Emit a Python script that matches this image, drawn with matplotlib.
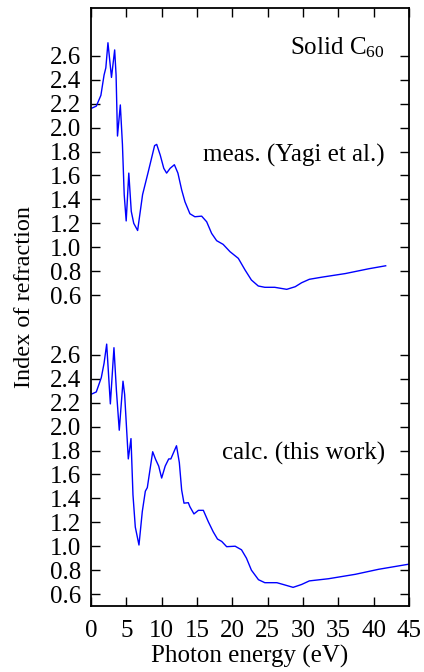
import matplotlib
matplotlib.use("Agg")
import matplotlib.pyplot as plt
import numpy as np

plt.rcParams['font.family'] = ['Liberation Serif', 'DejaVu Serif']
plt.rcParams['mathtext.fontset'] = 'custom'
plt.rcParams['mathtext.rm'] = 'Liberation Serif'
plt.rcParams['mathtext.it'] = 'Liberation Serif:italic'

# measured (Yagi et al.)
meas_e = [0.0, 0.75, 1.4, 1.85, 2.1, 2.4, 2.9, 3.35, 3.55, 3.75, 4.15, 4.45, 4.7,
          4.98, 5.35, 5.7, 6.05, 6.6, 7.3, 8.1, 9.0, 9.3, 9.8, 10.3, 10.7, 11.2,
          11.8, 12.3, 12.83, 13.3, 14.0, 14.7, 15.66, 16.37, 17.07, 17.78, 18.7,
          19.67, 20.85, 21.8, 22.7, 23.67, 24.6, 26.0, 27.7, 28.9, 29.8, 30.9,
          32.7, 36.0, 39.3, 41.7]
meas_n = [2.16, 2.18, 2.27, 2.44, 2.50, 2.71, 2.42, 2.65, 2.44, 1.93, 2.19, 1.86, 1.44,
          1.22, 1.62, 1.30, 1.20, 1.14, 1.44, 1.63, 1.85, 1.86, 1.77, 1.66, 1.62, 1.66,
          1.69, 1.62, 1.48, 1.38, 1.28, 1.255, 1.26, 1.213, 1.116, 1.055, 1.024,
          0.963, 0.907, 0.81, 0.726, 0.676, 0.665, 0.665, 0.648, 0.67, 0.703, 0.732,
          0.75, 0.78, 0.82, 0.845]

# calculated (this work)
calc_e = [0.0, 0.75, 1.46, 1.85, 2.22, 2.74, 3.25, 3.6, 4.0, 4.53, 4.76, 5.28, 5.66,
          5.94, 6.27, 6.79, 7.26, 7.69, 7.97, 8.73, 9.15, 9.58, 10.0, 10.5, 11.0,
          11.3, 12.1, 12.5, 12.83, 13.16, 13.77, 14.0, 14.57, 15.2, 15.9, 16.6,
          17.3, 17.9, 18.5, 19.2, 20.4, 21.3, 22.0, 22.7, 23.7, 24.6, 26.3, 27.2,
          28.6, 29.8, 30.9, 33.6, 37.4, 40.7, 45.0]
calc_n = [2.27, 2.29, 2.41, 2.53, 2.69, 2.19, 2.66, 2.30, 1.97, 2.38, 2.27, 1.73, 1.90,
          1.43, 1.16, 1.01, 1.29, 1.46, 1.49, 1.79, 1.725, 1.67, 1.57, 1.67, 1.73,
          1.73, 1.84, 1.70, 1.47, 1.36, 1.364, 1.33, 1.27, 1.30, 1.30, 1.205,
          1.12, 1.06, 1.04, 0.996, 1.00, 0.97, 0.90, 0.80, 0.72, 0.695, 0.695, 0.68,
          0.656, 0.68, 0.71, 0.728, 0.765, 0.807, 0.85]

offset = 2.5
tick_vals = [0.6, 0.8, 1.0, 1.2, 1.4, 1.6, 1.8, 2.0, 2.2, 2.4, 2.6]
x_ticks = [0, 5, 10, 15, 20, 25, 30, 35, 40, 45]

fig = plt.figure(figsize=(4.24, 6.72), dpi=100)
ax = fig.add_axes([0.2146, 0.0982, 0.75, 0.8898])

ax.plot(meas_e, np.array(meas_n) + offset, color='#0000ff', lw=1.0)
ax.plot(calc_e, calc_n, color='#0000ff', lw=1.0)

ax.set_xlim(0, 45)
ax.set_ylim(0.5, 5.5)
ax.set_xticks(x_ticks)
ax.set_xticklabels([str(v) for v in x_ticks])
yt = tick_vals + [v + offset for v in tick_vals]
ax.set_yticks(yt)
ax.set_yticklabels(['%.1f' % v for v in tick_vals] * 2)

ax.tick_params(direction='in', top=True, right=True, length=6.5, width=1,
               labelsize=18)
ax.tick_params(axis='y', pad=7)
ax.tick_params(axis='x', pad=10)
for s in ax.spines.values():
    s.set_linewidth(1.3)

ax.set_xlabel('Photon energy (eV)', fontsize=18, labelpad=2)
ax.set_ylabel('Index of refraction', fontsize=17.5)
ax.yaxis.set_label_coords(-0.175, 0.516)

ax.text(41.6, 5.166, 'Solid C$_{60}$', ha='right', va='center', fontsize=18)
ax.text(41.6, 4.27, 'meas. (Yagi et al.)', ha='right', va='center', fontsize=18)
ax.text(41.6, 1.779, 'calc. (this work)', ha='right', va='center', fontsize=18)

fig.savefig('out.png', dpi=100)
